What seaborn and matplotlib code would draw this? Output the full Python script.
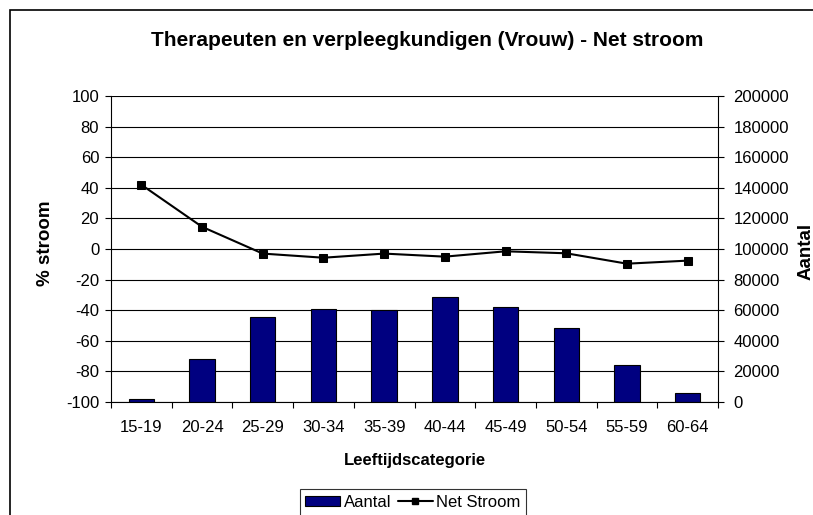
import numpy as np
import pandas as pd
import seaborn as sns
import matplotlib.pyplot as plt
from matplotlib.patches import Rectangle, Patch
from matplotlib.lines import Line2D

categories = ["15-19", "20-24", "25-29", "30-34", "35-39",
              "40-44", "45-49", "50-54", "55-59", "60-64"]
aantal = [2200, 28400, 55500, 61000, 60400, 68600, 61900, 48200, 24200, 5700]
net_stroom = [42, 14.5, -3, -5.7, -3, -5, -1.5, -2.8, -9.6, -7.6]

left_ticks = list(range(-100, 101, 20))
right_ticks = list(range(0, 200001, 20000))

W, H = 813, 515


def main():
    sns.set_style("white")
    plt.rcParams["font.family"] = ["Liberation Sans", "DejaVu Sans"]
    plt.rcParams["axes.unicode_minus"] = False
    plt.rcParams["text.color"] = "black"
    plt.rcParams["xtick.color"] = "black"
    plt.rcParams["ytick.color"] = "black"
    plt.rcParams["axes.labelcolor"] = "black"

    df = pd.DataFrame({"cat": categories, "aantal": aantal, "net": net_stroom})

    fig = plt.figure(figsize=(W / 100, H / 100), dpi=100)
    ax1 = fig.add_axes([111 / W, 1 - 402 / H, 607 / W, 306 / H])
    ax2 = ax1.twinx()

    # Bars on the right axis, gridlines behind them
    for v in right_ticks:
        ax2.axhline(v, color="black", linewidth=0.8, zorder=0)
    sns.barplot(data=df, x="cat", y="aantal", ax=ax2, color="#000080",
                edgecolor="black", linewidth=0.8, width=0.42, saturation=1,
                zorder=2)
    ax2.set_ylim(0, 200000)
    ax2.set_yticks(right_ticks)
    ax2.set_ylabel("")

    # Line on the left axis, drawn on top
    sns.lineplot(data=df, x="cat", y="net", ax=ax1, color="black",
                 marker="s", markersize=6, markeredgecolor="black",
                 linewidth=1.5, sort=False)
    ax1.set_zorder(ax2.get_zorder() + 1)
    ax1.patch.set_visible(False)
    ax1.set_ylim(-100, 100)
    ax1.set_yticks(left_ticks)
    ax1.set_xlim(-0.5, len(categories) - 0.5)
    ax1.set_ylabel("")
    ax1.set_xlabel("")
    ax1.grid(False)
    ax2.grid(False)

    # x ticks between categories
    ax1.set_xticks(range(len(categories)))
    ax1.set_xticklabels(categories)
    ax1.set_xticks(np.arange(-0.5, len(categories)), minor=True)
    ax1.tick_params(axis="x", which="major", length=0, pad=13, labelsize=12)
    ax1.tick_params(axis="x", which="minor", length=4.5, width=0.8, color="black",
                    direction="out", bottom=True)
    ax1.tick_params(axis="y", length=4.5, width=0.8, color="black",
                    direction="out", left=True, labelsize=12, pad=4)
    ax2.tick_params(axis="y", length=4, width=0.8, color="black",
                    direction="out", right=True, labelsize=12, pad=7)

    for ax in (ax1, ax2):
        for side in ("top", "bottom", "left", "right"):
            ax.spines[side].set_visible(False)
    for s in ("left", "bottom"):
        ax1.spines[s].set_visible(True)
        ax1.spines[s].set_color("black")
        ax1.spines[s].set_linewidth(0.8)
    ax2.spines["right"].set_visible(True)
    ax2.spines["right"].set_color("black")
    ax2.spines["right"].set_linewidth(0.8)

    # titles and axis labels
    fig.text(427 / W, 1 - 45.5 / H, "Therapeuten en verpleegkundigen (Vrouw) - Net stroom",
             ha="center", va="baseline", fontsize=15, fontweight="bold")
    fig.text(415 / W, 1 - 460 / H, "Leeftijdscategorie",
             ha="center", va="center", fontsize=12, fontweight="bold")
    fig.text(45 / W, 1 - 243 / H, "% stroom", rotation=90,
             ha="center", va="center", fontsize=13.5, fontweight="bold")
    fig.text(806 / W, 1 - 251 / H, "Aantal", rotation=90,
             ha="center", va="center", fontsize=13.5, fontweight="bold")

    handles = [Patch(facecolor="#000080", edgecolor="black", linewidth=0.8),
               Line2D([], [], color="black", marker="s", markersize=5, linewidth=1.5)]
    leg = fig.legend(handles, ["Aantal", "Net Stroom"], loc="upper center",
                     bbox_to_anchor=(413 / W, 1 - 489 / H), ncol=2,
                     frameon=True, fancybox=False, fontsize=12,
                     handlelength=2.1, handleheight=0.6, handletextpad=0.2,
                     columnspacing=0.4, borderpad=0.35, borderaxespad=0)
    leg.get_frame().set_edgecolor("black")
    leg.get_frame().set_linewidth(0.8)

    # outer chart border
    fig.patches.append(Rectangle((10 / W, -0.05), 1.0, 1 - 10 / H + 0.05,
                                 transform=fig.transFigure, fill=False,
                                 edgecolor="black", linewidth=1.2))

    fig.savefig("out.png", dpi=100)


if __name__ == "__main__":
    main()
